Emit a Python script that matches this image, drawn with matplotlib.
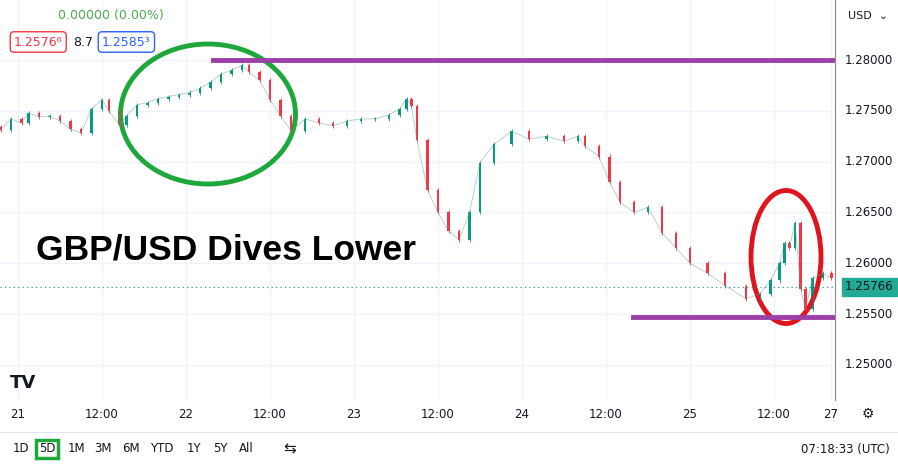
import numpy as np
import matplotlib

matplotlib.use("Agg")
import matplotlib.pyplot as plt
from matplotlib.patches import Ellipse

# hours since 21 00:00 and closing prices
hours = [-2.5, -1, 0.5, 1.5, 3, 4.5, 6, 7.5, 9, 10.5, 12, 13, 14.5, 15.5, 17, 18.5, 20, 21.5,
         23, 24.5, 26, 27.5, 29, 30.5, 32, 33, 34.5, 36, 37.5, 39, 41, 43, 45, 47, 49, 51,
         53, 54.5, 55.5, 56.2, 57, 58.5, 60, 61.5, 63, 64.5, 66, 68, 70.5, 73, 75.5, 78,
         80, 81, 83, 84.5, 86, 88, 90, 92, 94, 96, 98.5, 101, 104, 106, 107.5, 108.8, 109.5,
         110.2, 111, 111.8, 112.5, 113.5, 115, 116.2]
close = [1.2731, 1.2742, 1.2738, 1.2748, 1.2744, 1.2745, 1.2740, 1.2732, 1.2728, 1.2752,
         1.2761, 1.2750, 1.2736, 1.2745, 1.2756, 1.2758, 1.2762, 1.2764, 1.2766, 1.2768,
         1.2772, 1.2778, 1.2786, 1.2790, 1.2795, 1.2788, 1.2780, 1.2761, 1.2745, 1.2730,
         1.2742, 1.2738, 1.2735, 1.2740, 1.2742, 1.2742, 1.2746, 1.2752, 1.2762, 1.2755,
         1.2721, 1.2672, 1.2650, 1.2632, 1.2623, 1.2650, 1.2699, 1.2717, 1.2730, 1.2722,
         1.2725, 1.2720, 1.2725, 1.2715, 1.2705, 1.2680, 1.2660, 1.2650, 1.2655, 1.2630,
         1.2615, 1.2600, 1.2590, 1.2578, 1.2565, 1.2570, 1.2583, 1.2600, 1.2620, 1.2615,
         1.2640, 1.2575, 1.2555, 1.2585, 1.2590, 1.2585]
tick_pos = [0, 12, 24, 36, 48, 60, 72, 84, 96, 108, 116.1]
tick_lab = ["21", "12:00", "22", "12:00", "23", "12:00", "24", "12:00", "25", "12:00", "27"]
price_ticks = [1.25, 1.255, 1.26, 1.265, 1.27, 1.275, 1.28]
last = 1.25766

UP = "#089981"
DN = "#f23645"
PURPLE = "#9c3fa8"


def px_x(x):
    return (x - 18) / 7.0


def px_y(y):
    return 1.28 - (y - 60) * 0.005 / 50.8


fig = plt.figure(figsize=(8.98, 4.66), dpi=100)
ax = fig.add_axes([0, 66 / 466, 835 / 898, 400 / 466])
ax.set_xlim(px_x(0), px_x(835))
ax.set_ylim(px_y(400), px_y(0))

opens = [close[0] + 0.0003] + close[:-1]
for t, o, c in zip(hours, opens, close):
    col = UP if c >= o else DN
    lo, hi = min(o, c), max(o, c)
    ax.vlines(t, lo - 0.0002, hi + 0.0002, color=col, lw=0.6)
    ax.bar(t, max(hi - lo, 0.00005), bottom=lo, width=0.35, color=col)

ax.plot(hours, close, color="#5a9e8a", lw=0.6, alpha=0.5)

ax.set_xticks(tick_pos)
ax.set_yticks(price_ticks)
ax.grid(color="#f0f3fa", lw=1)
ax.tick_params(length=0, labelbottom=False, labelleft=False)
for s in ["top", "left", "bottom"]:
    ax.spines[s].set_visible(False)
ax.spines["right"].set_color("#888888")
ax.set_axisbelow(True)

for p in price_ticks:
    ax.text(1.012, p, f"{p:.5f}", transform=ax.get_yaxis_transform(), va="center",
            fontsize=8.5, color="#131722")
for t, l in zip(tick_pos, tick_lab):
    fig.text(ax.transData.transform((t, 0))[0] / 898, 52 / 466, l, ha="center",
             va="center", fontsize=8.5, color="#131722")

ax.axhline(last, color=UP, lw=0.8, ls=(0, (1, 3)))
ax.text(1.012, last, "1.25766", transform=ax.get_yaxis_transform(), va="center",
        fontsize=8.5, color="#131722",
        bbox=dict(boxstyle="square,pad=0.25", fc="#22ab94", ec="#22ab94"))

# annotations
ax.plot([px_x(213), px_x(833)], [1.28, 1.28], color=PURPLE, lw=3.5)
ax.plot([px_x(633), px_x(833)], [px_y(317)] * 2, color=PURPLE, lw=3.5)
ax.add_patch(Ellipse((px_x(208), px_y(114)), 175 / 7, 140 * 0.005 / 50.8,
                     fill=False, ec="#1ea83c", lw=3.5))
ax.add_patch(Ellipse((px_x(786), px_y(257)), 70 / 7, 133 * 0.005 / 50.8,
                     fill=False, ec="#e0141e", lw=3.5))
ax.text(px_x(36), px_y(250), "GBP/USD Dives Lower", fontsize=25.5, weight="bold",
        family="Liberation Sans", va="center", color="black")

# header
fig.text(58 / 898, 1 - 16 / 466, "0.00000 (0.00%)", fontsize=9, color="#4caf50", va="center")
fig.text(14 / 898, 1 - 42 / 466, "1.2576\u2076", fontsize=9, color="#f23645", va="center",
         bbox=dict(boxstyle="round,pad=0.3", fc="white", ec="#f23645"))
fig.text(73 / 898, 1 - 42 / 466, "8.7", fontsize=9, color="#131722", va="center")
fig.text(102 / 898, 1 - 42 / 466, "1.2585\u00b3", fontsize=9, color="#2962ff", va="center",
         bbox=dict(boxstyle="round,pad=0.3", fc="white", ec="#2962ff"))
fig.text(848 / 898, 1 - 16 / 466, "USD  \u2304", fontsize=8, color="#131722", va="center")
fig.text(10 / 898, 1 - 383 / 466, "TV", fontsize=13, weight="bold", color="#131722", va="center")

# bottom toolbar
fig.add_artist(plt.Line2D([0, 1], [34 / 466, 34 / 466], color="#e0e3eb", lw=0.8))
labels = ["1D", "5D", "1M", "3M", "6M", "YTD", "1Y", "5Y", "All"]
xs = [21, 47, 76, 103, 131, 162, 194, 220, 246]
for x, l in zip(xs, labels):
    fig.text(x / 898, 17 / 466, l, ha="center", va="center", fontsize=8.5, color="#131722",
             bbox=dict(boxstyle="square,pad=0.25", fc="none", ec="#1ea83c", lw=2.5)
             if l == "5D" else None)
fig.text(290 / 898, 17 / 466, "\u21c6", ha="center", va="center", fontsize=11, color="#131722")
fig.text(890 / 898, 17 / 466, "07:18:33 (UTC)", ha="right", va="center", fontsize=8.5,
         color="#131722")
fig.text(868 / 898, 52 / 466, "\u2699", ha="center", va="center", fontsize=10, color="#131722")

fig.savefig("out.png", dpi=100)
